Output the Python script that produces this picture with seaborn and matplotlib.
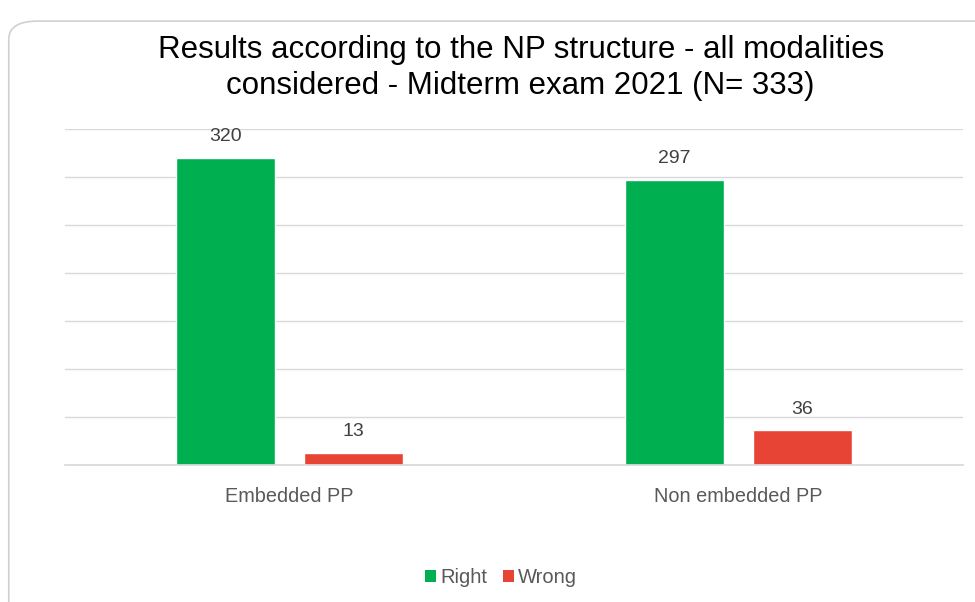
import pandas as pd
import numpy as np
import matplotlib.pyplot as plt
import seaborn as sns
from matplotlib.patches import FancyBboxPatch, Patch

structures = ['Embedded PP', 'Non embedded PP']
right = [320, 297]
wrong = [13, 36]
results = ['Right', 'Wrong']

df = pd.DataFrame({
    'structure': structures * 2,
    'result': ['Right'] * 2 + ['Wrong'] * 2,
    'count': right + wrong,
})

sns.set_theme(style='white')
plt.rcParams['font.family'] = ['Liberation Sans', 'DejaVu Sans']

colors = {'Right': '#00B050', 'Wrong': '#E84435'}
grey = '#595959'

fig = plt.figure(figsize=(9.75, 6.02), dpi=100)
# rounded chart frame
frame = FancyBboxPatch((0.009, -0.05), 1.05, 1.015, boxstyle='round,pad=0,rounding_size=0.03',
                       transform=fig.transFigure, facecolor='none', edgecolor='#d0d0d0',
                       linewidth=1.2, zorder=-10)
fig.patches.append(frame)

ax = fig.add_axes([0.0667, 0.2276, 0.921, 0.558])
ax.set_facecolor('none')
sns.barplot(data=df, x='structure', y='count', hue='result', order=structures,
            hue_order=results, palette=colors, width=0.57, gap=0.22,
            saturation=1, legend=False, ax=ax)

ax.set_ylim(0, 350)
ax.set_yticks(np.arange(0, 351, 50))
ax.yaxis.grid(True, color='#d9d9d9', linewidth=1)
ax.set_axisbelow(True)
ax.tick_params(axis='y', left=False, labelleft=False)
ax.tick_params(axis='x', bottom=False, labelsize=14.3, labelcolor=grey, pad=10)
for s in ['top', 'right', 'left']:
    ax.spines[s].set_visible(False)
ax.spines['bottom'].set_color('#d9d9d9')
ax.set_xlabel('')
ax.set_ylabel('')

for c in ax.containers:
    ax.bar_label(c, padding=9, fontsize=14, color='#404040')

fig.text(0.534, 0.887, 'Results according to the NP structure - all modalities\nconsidered - Midterm exam 2021 (N= 333)',
         ha='center', va='center', fontsize=22.5, color='black', linespacing=1.3)

handles = [Patch(facecolor=colors[r], edgecolor='none') for r in results]
fig.legend(handles, results, loc='center', bbox_to_anchor=(0.514, 0.04), ncol=2,
           frameon=False, fontsize=14.5, labelcolor=grey, handlelength=0.55,
           handleheight=0.55, handletextpad=0.2, columnspacing=0.8)

fig.savefig('out.png', dpi=100)
